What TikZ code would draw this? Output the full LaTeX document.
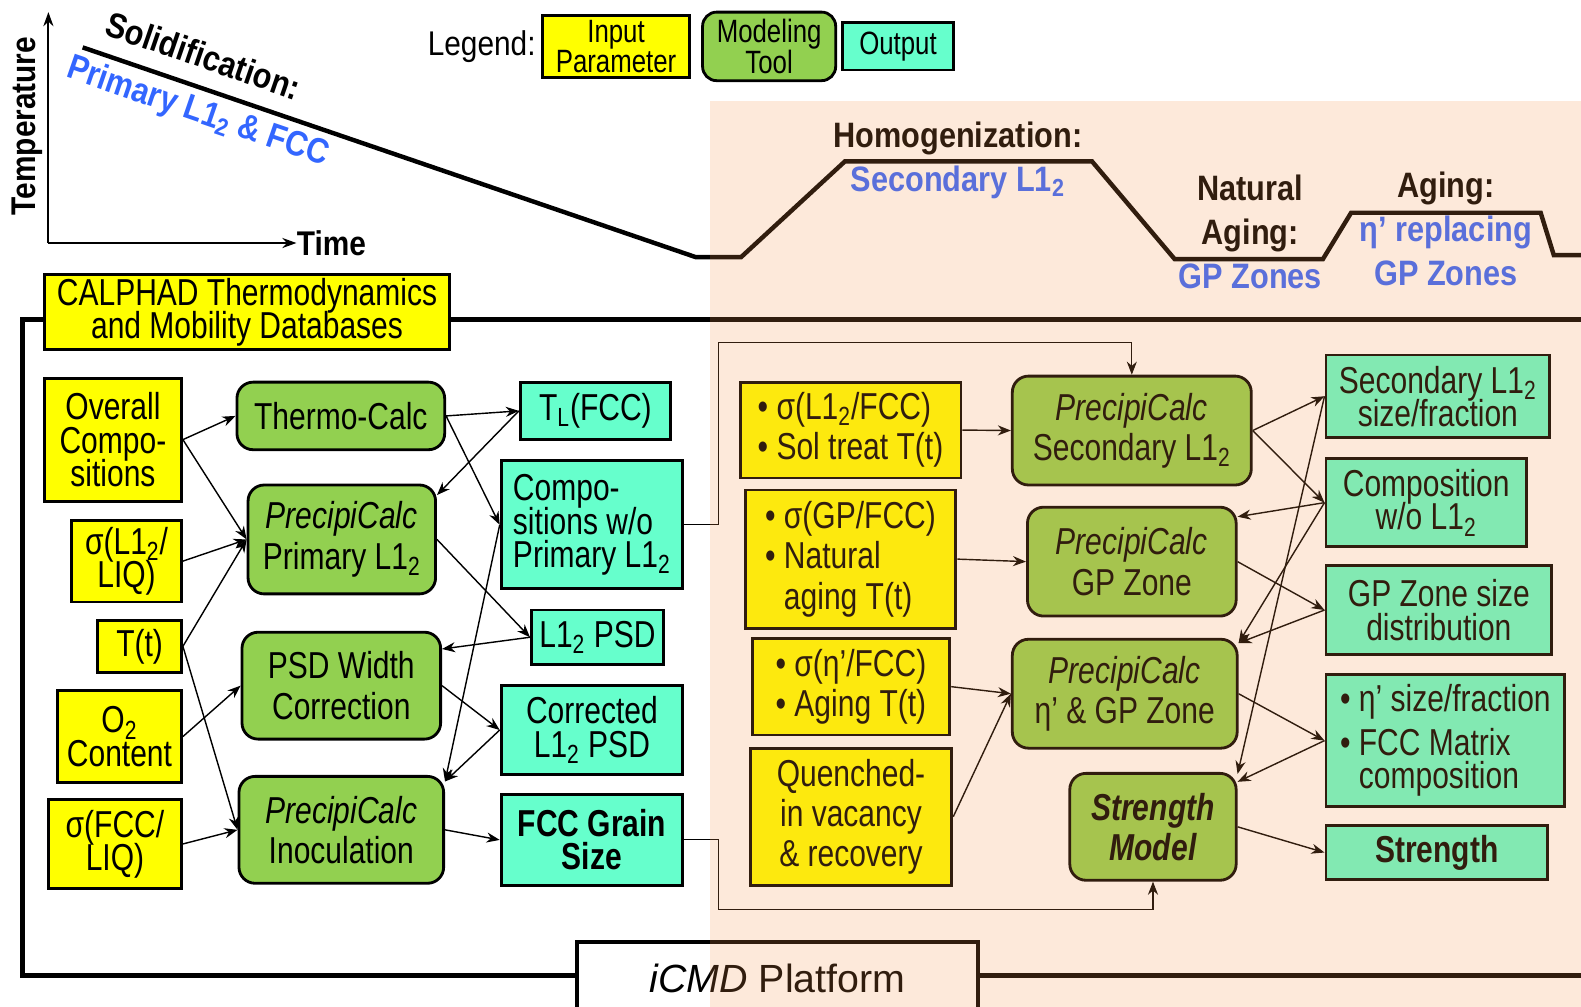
\documentclass[tikz,border=0pt]{standalone}
\usepackage{fontspec}
\setmainfont{Liberation Sans}[FakeStretch=0.8]
\newfontfamily\headfont{Liberation Sans}[FakeStretch=0.87]
\newfontfamily\plainfont{Liberation Sans}
\usetikzlibrary{positioning, arrows.meta}

\definecolor{inyellow}{RGB}{255,255,0}
\definecolor{toolgreen}{RGB}{146,208,80}
\definecolor{outcyan}{RGB}{102,255,204}
\definecolor{stageblue}{RGB}{51,102,255}
\definecolor{heatorange}{RGB}{246,148,74}

\newcommand{\Lonetwo}{L1\textsubscript{2}}
\newcommand{\boxfont}{\fontsize{18.6}{16.5}\selectfont\lineskiplimit=-20pt\relax}
\newcommand{\loosefont}{\fontsize{18.6}{20}\selectfont\lineskiplimit=-20pt\relax}
\newcommand{\legfont}{\fontsize{16}{15}\selectfont\lineskiplimit=-20pt\relax}
\newcommand{\stagefont}{\headfont\bfseries\fontsize{17.5}{22}\selectfont}

\tikzstyle{inbox}=[rectangle, draw=black, line width=1.4pt, fill=inyellow,
                   inner sep=1pt, align=center, font=\boxfont]
\tikzstyle{tool}=[rectangle, rounded corners=8pt, draw=black, line width=1.4pt,
                  % The rest
                  fill=toolgreen, inner sep=1pt, align=center, font=\loosefont]
\tikzstyle{outbox}=[rectangle, draw=black, line width=1.4pt, fill=outcyan,
                    inner sep=1pt, align=center, font=\boxfont]
\tikzstyle{flow}=[-{Stealth[length=6.5pt,width=5pt]}, line width=0.7pt]
\tikzstyle{stage}=[font=\stagefont, align=center, inner sep=0pt]

\begin{document}
\begin{tikzpicture}[x=0.5pt, y=-0.5pt]
  \path[use as bounding box, fill=white] (0,0) rectangle (1568,998);

  % Temperature vs time sketch
  \coordinate (origin) at (48,241);
  \coordinate (tmax) at (48,12);
  \node[font=\headfont\bfseries\fontsize{17}{20}\selectfont, anchor=west, inner sep=0pt] (timelbl) at (294,241) {Time};
  \node[font=\headfont\bfseries\fontsize{17}{18}\selectfont, rotate=90, inner sep=0pt] (templbl) at (27,125) {Temperature};
  \draw[line width=1pt, -{Stealth[length=7pt,width=5pt]}] (origin) -- (tmax);
  \draw[line width=1pt, -{Stealth[length=7pt,width=5pt]}] (origin) -- (timelbl.west);

  \draw[line width=2.2pt] (82,47) -- (690,255) -- (735,255) -- (838,160) -- (1083,160)
    -- (1165,257) -- (1312,257) -- (1340,211) -- (1528,211) -- (1541,253) -- (1575,253);

  \node[stage, rotate=-19] (solid) at (202,55) {Solidification:};
  \node[stage, rotate=-19, text=stageblue] (primary) at (196,112) {Primary \Lonetwo{} \& FCC};
  \node[stage] (homog) at (950,159) {Homogenization:\\\textcolor{stageblue}{Secondary \Lonetwo}};
  \node[stage] (natage) at (1240,230) {Natural\\Aging:\\\textcolor{stageblue}{GP Zones}};
  \node[stage] (aging) at (1434,227) {Aging:\\\textcolor{stageblue}{η’ replacing}\\\textcolor{stageblue}{GP Zones}};

  % Legend
  \node[inbox, minimum width=73pt, minimum height=31pt, font=\legfont] (legin) at (611,46) {Input\\Parameter};
  \node[left=1.5pt of legin, inner sep=1pt, font=\headfont\fontsize{17}{20}\selectfont] (legend) {Legend:};
  \node[tool, right=5pt of legin, minimum width=66pt, minimum height=34pt, rounded corners=7pt,
        font=\legfont] (legtool) {Modeling\\Tool};
  \node[outbox, right=2pt of legtool, minimum width=55pt, minimum height=23.5pt,
        font=\legfont] (legout) {Output};

  % Platform frame
  \draw[line width=2.5pt] (1575,317) -- (22,317) -- (22,967) -- (1575,967);
  \node[draw, line width=2pt, fill=white, minimum width=199pt, minimum height=36pt,
        font=\plainfont\fontsize{19.5}{22}\selectfont] (platform) at (771,970) {\textit{iCMD} Platform};

  % Inputs on the left
  \node[inbox, minimum width=201pt, minimum height=37.5pt] (calphad) at (245,309.5) {CALPHAD Thermodynamics\\and Mobility Databases};
  \node[inbox, minimum width=68pt, minimum height=61pt] (overall) at (112,436) {Overall\\Compo-\\sitions};
  \node[inbox, minimum width=54.5pt, minimum height=40.5pt] (sigliq) at (125.5,556.5) {σ(\Lonetwo/\\LIQ)};
  \node[inbox, minimum width=41.5pt, minimum height=26pt] (tt) at (138.5,641) {T(t)};
  \node[inbox, minimum width=61.5pt, minimum height=45.5pt] (otwo) at (118.5,730.5) {O\textsubscript{2}\\Content};
  \node[inbox, minimum width=66pt, minimum height=44pt] (sigfcc) at (114,837) {σ(FCC/\\LIQ)};

  % Tools on the left
  \node[tool, minimum width=103pt, minimum height=33.5pt] (thermo) at (338,412.5) {Thermo-Calc};
  \node[tool, minimum width=93pt, minimum height=54pt] (pcprim) at (339,535) {\textit{PrecipiCalc}\\Primary \Lonetwo};
  \node[tool, minimum width=98.5pt, minimum height=53pt] (psdw) at (338.5,680) {PSD Width\\Correction};
  \node[tool, minimum width=101.5pt, minimum height=53pt] (pcinoc) at (338.5,823) {\textit{PrecipiCalc}\\Inoculation};

  % Outputs on the left
  \node[outbox, minimum width=74.5pt, minimum height=28.5pt] (tl) at (590.5,407.5) {T\textsubscript{L}(FCC)};
  \node[outbox, minimum width=90pt, minimum height=63.5pt, align=left] (compwo) at (587,520.5) {Compo-\\sitions w/o\\Primary \Lonetwo};
  \node[outbox, minimum width=65.5pt, minimum height=27pt] (psd) at (592.5,632) {\Lonetwo{} PSD};
  \node[outbox, minimum width=90pt, minimum height=44pt] (corrpsd) at (587,724) {Corrected\\\Lonetwo{} PSD};
  \node[outbox, minimum width=90pt, minimum height=45pt, font=\boxfont\bfseries] (grain) at (587,833) {FCC Grain\\Size};

  % Inputs on the right
  \node[inbox, font=\loosefont, align=left, minimum width=109.5pt, minimum height=47.5pt] (solin) at (843.5,426.5) {• σ(\Lonetwo/FCC)\\• Sol treat T(t)};
  \node[inbox, font=\loosefont, align=left, minimum width=104.5pt, minimum height=68.5pt] (gpin) at (843.5,554.5) {• σ(GP/FCC)\\• Natural\\\hphantom{• }aging T(t)};
  \node[inbox, font=\loosefont, align=left, minimum width=98pt, minimum height=48pt] (etain) at (844,681) {• σ(η’/FCC)\\• Aging T(t)};
  \node[inbox, font=\loosefont, minimum width=100pt, minimum height=68pt] (vacin) at (844,810) {Quenched-\\in vacancy\\\& recovery};

  % Tools on the right
  \node[tool, minimum width=118.5pt, minimum height=54pt] (pcsec) at (1122.5,427) {\textit{PrecipiCalc}\\Secondary \Lonetwo};
  \node[tool, minimum width=103.5pt, minimum height=54pt] (pcgp) at (1122.5,557) {\textit{PrecipiCalc}\\GP Zone};
  \node[tool, minimum width=111.5pt, minimum height=54pt] (pceta) at (1115.5,688) {\textit{PrecipiCalc}\\η’ \& GP Zone};
  \node[tool, minimum width=82.5pt, minimum height=53pt, font=\loosefont\bfseries\itshape] (strmod) at (1143.5,820) {Strength\\Model};

  % Outputs on the right
  \node[outbox, minimum width=111pt, minimum height=41pt] (secout) at (1426,393) {Secondary \Lonetwo\\size/fraction};
  \node[outbox, minimum width=99.5pt, minimum height=43.5pt] (compout) at (1414.5,498.5) {Composition\\w/o \Lonetwo};
  \node[outbox, minimum width=112pt, minimum height=44pt] (gpout) at (1427,605) {GP Zone size\\distribution};
  \node[outbox, align=left, minimum width=118.5pt, minimum height=65.5pt] (etaout) at (1433.5,734.5) {• η’ size/fraction\\[5pt]• FCC Matrix\\\hphantom{• }composition};
  \node[outbox, font=\boxfont\bfseries, minimum width=110pt, minimum height=26.5pt] (strout) at (1425,845.5) {Strength};

  % Connections, left half
  \draw[flow] (overall.east) -- (thermo.west);
  \draw[flow] (overall.east) -- (pcprim.west);
  \draw[flow] (sigliq.east) -- (pcprim.west);
  \draw[flow] (tt.east) -- (pcprim.west);
  \draw[flow] (tt.east) -- (pcinoc.west);
  \draw[flow] (otwo.east) -- (psdw.west);
  \draw[flow] (sigfcc.east) -- (pcinoc.west);
  \draw[flow] (thermo.east) -- (tl.west);
  \draw[flow] (thermo.east) -- (compwo.west);
  \draw[flow] (tl.west) -- (pcprim.25);
  \draw[flow] (pcprim.east) -- (psd.west);
  \draw[flow] (psd.west) -- (psdw.20);
  \draw[flow] (psdw.east) -- (corrpsd.west);
  \draw[flow] (corrpsd.west) -- (pcinoc.25);
  \draw[flow] (compwo.west) -- (pcinoc.25);
  \draw[flow] (pcinoc.east) -- (grain.west);

  \coordinate (upbend) at (713,340);
  \coordinate (downbend) at (713,902);
  \draw[flow, line width=0.5pt] (compwo.east) -- (compwo.east -| upbend) -- (upbend) -- (upbend -| pcsec.north) -- (pcsec.north);
  \draw[flow, line width=0.5pt] (grain.east) -- (grain.east -| downbend) -- (downbend) -- (downbend -| strmod.south) -- (strmod.south);

  % Connections, right half
  \draw[flow] (solin.east) -- (pcsec.west);
  \draw[flow] (gpin.east) -- (pcgp.west);
  \draw[flow] (etain.east) -- (pceta.west);
  \draw[flow] (vacin.east) -- (pceta.west);
  \draw[flow] (pcsec.east) -- (secout.west);
  \draw[flow] (pcsec.east) -- (compout.west);
  \draw[flow] (compout.west) -- (pcgp.23);
  \draw[flow] (compout.west) -- (pceta.24);
  \draw[flow] (pcgp.east) -- (gpout.west);
  \draw[flow] (gpout.west) -- (pceta.24);
  \draw[flow] (pceta.east) -- (etaout.west);
  \draw[flow] (etaout.west) -- (strmod.28);
  \draw[flow] (secout.west) -- (strmod.32);
  \draw[flow] (strmod.east) -- (strout.west);

  % Heat treatment shading
  \fill[heatorange, opacity=0.2] (704,100) rectangle (1575,1005);
\end{tikzpicture}
\end{document}
